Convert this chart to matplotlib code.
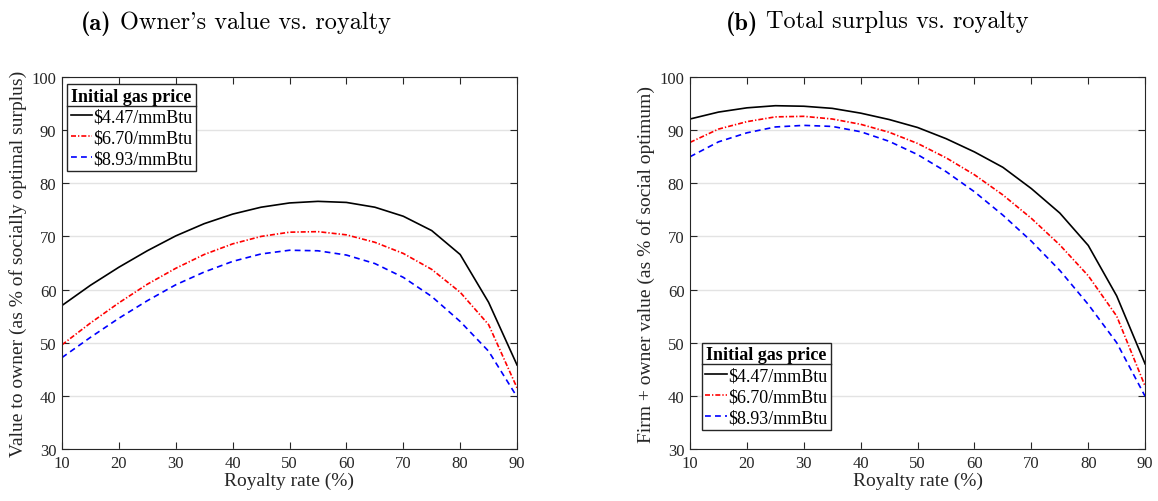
import matplotlib
matplotlib.use("Agg")
import matplotlib.pyplot as plt
from matplotlib.lines import Line2D

# royalty grid and model results (percent of social optimum)
royalty = [10, 15, 20, 25, 30, 35, 40, 45, 50, 55, 60, 65, 70, 75, 80, 85, 90]
price_labels = ["$4.47/mmBtu", "$6.70/mmBtu", "$8.93/mmBtu"]

owner_447 = [57.0, 60.8, 64.2, 67.3, 70.1, 72.4, 74.2, 75.5, 76.3, 76.6, 76.4, 75.5, 73.8, 71.1, 66.6, 57.6, 45.8]
owner_670 = [49.6, 53.7, 57.5, 61.0, 64.0, 66.6, 68.6, 70.0, 70.8, 70.9, 70.3, 68.9, 66.8, 63.8, 59.5, 53.4, 41.5]
owner_893 = [47.2, 51.0, 54.6, 57.9, 60.9, 63.3, 65.3, 66.7, 67.4, 67.3, 66.5, 64.9, 62.3, 58.7, 54.0, 48.4, 39.8]

total_447 = [92.1, 93.4, 94.2, 94.6, 94.5, 94.1, 93.2, 92.0, 90.5, 88.4, 85.9, 83.0, 79.0, 74.4, 68.3, 58.8, 46.0]
total_670 = [87.7, 90.2, 91.6, 92.5, 92.6, 92.1, 91.1, 89.6, 87.5, 84.8, 81.6, 77.8, 73.4, 68.4, 62.6, 55.0, 41.8]
total_893 = [85.0, 87.8, 89.5, 90.6, 90.9, 90.7, 89.7, 87.9, 85.4, 82.2, 78.4, 74.0, 69.1, 63.6, 57.2, 50.0, 39.9]

styles = [dict(color="black", ls="-"),
          dict(color="red", ls=(0, (3.0, 1.2, 0.8, 1.2))),
          dict(color="blue", ls=(0, (3.5, 2.5)))]

plt.rcParams["font.family"] = ["Liberation Serif", "DejaVu Serif"]
plt.rcParams["font.size"] = 12

fig = plt.figure(figsize=(11.58, 5.02), dpi=100)
ax_a = fig.add_axes([0.0535, 0.1036, 0.393, 0.741])
ax_b = fig.add_axes([0.5959, 0.1036, 0.393, 0.741])


def draw_panel(ax, series, ylabel, legend_loc, anchor):
    for vals, lab, st in zip(series, price_labels, styles):
        ax.plot(royalty, vals, lw=1.2, label=lab, **st)
    ax.set_xlim(10, 90)
    ax.set_ylim(30, 100)
    ax.set_xticks(range(10, 91, 10))
    ax.set_yticks(range(30, 101, 10))
    ax.yaxis.grid(True, color="#e3e3e3", lw=1.0)
    ax.set_axisbelow(True)
    ax.tick_params(direction="in", top=True, right=True, length=5, width=0.8,
                   color="#262626", labelcolor="#262626", labelsize=12, pad=4)
    for sp in ax.spines.values():
        sp.set_color("#262626")
        sp.set_linewidth(0.8)
    ax.set_xlabel("Royalty rate (%)", fontsize=14, labelpad=1, color="#262626")
    ax.set_ylabel(ylabel, fontsize=14, labelpad=3, color="#262626")
    leg = ax.legend(loc=legend_loc, bbox_to_anchor=anchor, title="Initial gas price",
                    fancybox=False, edgecolor="#262626", framealpha=1, fontsize=13,
                    handlelength=1.2, handletextpad=0.05, borderpad=0.2,
                    labelspacing=0.22, borderaxespad=0,
                    title_fontproperties={"weight": "bold", "size": 13})
    leg.get_frame().set_linewidth(1.0)
    return leg


leg_a = draw_panel(ax_a, [owner_447, owner_670, owner_893],
                   "Value to owner (as % of socially optimal surplus)",
                   "upper left", (0.011, 0.981))
leg_b = draw_panel(ax_b, [total_447, total_670, total_893],
                   "Firm + owner value (as % of social optimum)",
                   "lower left", (0.026, 0.051))

# separator rule under each legend title
fig.canvas.draw()
inv = fig.transFigure.inverted()
for leg in (leg_a, leg_b):
    fb = leg.get_frame().get_window_extent()
    tb = leg.get_title().get_window_extent()
    y = tb.y0 - 1
    (x0, yy), (x1, _) = inv.transform([(fb.x0, y), (fb.x1, y)])
    fig.add_artist(Line2D([x0, x1], [yy, yy], transform=fig.transFigure,
                          color="#262626", lw=1.0))

# panel captions: bold tag followed by roman text, centred as one line
renderer = fig.canvas.get_renderer()
W = fig.bbox.width
for xc, tag, text in [(236, "(a)", "Owner's value vs. royalty"),
                      (877, "(b)", "Total surplus vs. royalty")]:
    t_tag = fig.text(0, 0.978, tag, fontsize=17.5, family="cmb10", va="top")
    t_txt = fig.text(0, 0.978, text, fontsize=17.5, family=["cmr10", "DejaVu Serif"], va="top")
    w_tag = t_tag.get_window_extent(renderer).width
    w_txt = t_txt.get_window_extent(renderer).width
    gap = 8
    x0 = xc - (w_tag + gap + w_txt) / 2
    t_tag.set_x(x0 / W)
    t_txt.set_x((x0 + w_tag + gap) / W)

fig.savefig("out.png", dpi=100)
